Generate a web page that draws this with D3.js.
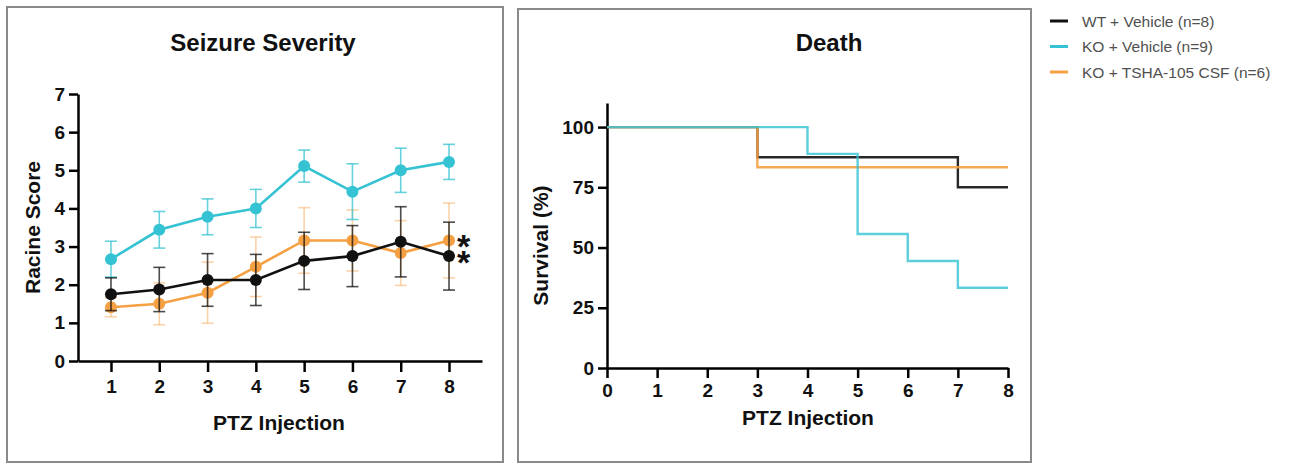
<!DOCTYPE html>
<html>
<head>
<meta charset="utf-8">
<script src="https://cdn.jsdelivr.net/npm/d3@7"></script>
<style>
  html, body { margin: 0; padding: 0; background: #fff; }
  svg { display: block; font-family: "Liberation Sans", Arial, sans-serif; }
  .sig { font-family: "Liberation Sans", Arial, sans-serif; font-weight: bold; font-size: 34px; color: #111; margin: 0; }
</style>
</head>
<body>
<svg id="chart" width="1295" height="464"></svg>
<script>
// PTZ injection index and group labels
const injections = [1, 2, 3, 4, 5, 6, 7, 8];
const groups = ["WT + Vehicle (n=8)", "KO + Vehicle (n=9)", "KO + TSHA-105 CSF (n=6)"];
const colors = ["#111111", "#35c3d3", "#f5a043"];

// Racine score means and SEM per group
const wtMean   = [1.75, 1.875, 2.125, 2.125, 2.625, 2.75, 3.125, 2.75];
const wtSem    = [0.43, 0.58, 0.69, 0.67, 0.75, 0.80, 0.92, 0.89];
const koMean   = [2.67, 3.44, 3.78, 4.00, 5.11, 4.44, 5.00, 5.22];
const koSem    = [0.47, 0.48, 0.47, 0.50, 0.42, 0.73, 0.58, 0.46];
const tshaMean = [1.41, 1.50, 1.79, 2.47, 3.16, 3.16, 2.83, 3.16];
const tshaSem  = [0.25, 0.55, 0.80, 0.78, 0.86, 0.80, 0.85, 0.98];

// Kaplan-Meier survival steps: [injection, survival %]
const wtSurv   = [[0, 100], [3, 87.5], [7, 75], [8, 75]];
const koSurv   = [[0, 100], [4, 88.9], [5, 55.6], [6, 44.4], [7, 33.3], [8, 33.3]];
const tshaSurv = [[0, 100], [3, 83.3], [8, 83.3]];

const yTicksScore = [0, 1, 2, 3, 4, 5, 6, 7];
const xTicksSurv = [0, 1, 2, 3, 4, 5, 6, 7, 8];
const yTicksSurv = [0, 25, 50, 75, 100];

const svg = d3.select("#chart");

// Panel frames
svg.append("rect").attr("x", 7).attr("y", 7).attr("width", 496).attr("height", 455)
  .attr("fill", "none").attr("stroke", "#8a8a8a").attr("stroke-width", 2);
svg.append("rect").attr("x", 518).attr("y", 9).attr("width", 513).attr("height", 453)
  .attr("fill", "none").attr("stroke", "#8a8a8a").attr("stroke-width", 2);

function styleAxis(g) {
  g.selectAll(".domain").attr("stroke", "#000").attr("stroke-width", 2.5);
  g.selectAll(".tick line").attr("stroke", "#000").attr("stroke-width", 2.5);
  g.selectAll(".tick text").attr("fill", "#111").attr("font-weight", "bold")
    .attr("font-size", 19).attr("font-family", "'Liberation Sans', Arial, sans-serif");
}

// ---------- Seizure severity ----------
const x1 = d3.scaleLinear().domain([0.317, 8.683]).range([78, 482]);
const y1 = d3.scaleLinear().domain([0, 7]).range([361, 94]);

const gx1 = svg.append("g").attr("transform", `translate(0,${y1(0)})`)
  .call(d3.axisBottom(x1).tickValues(injections).tickFormat(d3.format("d"))
    .tickSize(11).tickPadding(8).tickSizeOuter(0));
styleAxis(gx1);
const gy1 = svg.append("g").attr("transform", `translate(${x1.range()[0]},0)`)
  .call(d3.axisLeft(y1).tickValues(yTicksScore).tickFormat(d3.format("d"))
    .tickSize(9).tickPadding(4).tickSizeOuter(0));
styleAxis(gy1);

svg.append("text").attr("x", 263).attr("y", 51).attr("text-anchor", "middle")
  .attr("font-weight", "bold").attr("font-size", 24).attr("fill", "#111").text("Seizure Severity");
svg.append("text").attr("transform", `translate(40,${(y1(0) + y1(7)) / 2}) rotate(-90)`)
  .attr("text-anchor", "middle").attr("font-weight", "bold").attr("font-size", 21)
  .attr("fill", "#111").text("Racine Score");
svg.append("text").attr("x", 279).attr("y", 430).attr("text-anchor", "middle")
  .attr("font-weight", "bold").attr("font-size", 21).attr("fill", "#111").text("PTZ Injection");

const severity = [
  { mean: tshaMean, sem: tshaSem, color: colors[2], barOpacity: 0.45 },
  { mean: koMean, sem: koSem, color: colors[1], barOpacity: 0.75 },
  { mean: wtMean, sem: wtSem, color: colors[0], barOpacity: 0.75 }
];

severity.forEach(s => {
  const g = svg.append("g");
  injections.forEach((inj, i) => {
    const cx = x1(inj);
    const top = y1(s.mean[i] + s.sem[i]);
    const bot = y1(s.mean[i] - s.sem[i]);
    g.append("line").attr("x1", cx).attr("x2", cx).attr("y1", top).attr("y2", bot)
      .attr("stroke", s.color).attr("stroke-width", 1.6).attr("opacity", s.barOpacity);
    [top, bot].forEach(yy => g.append("line").attr("x1", cx - 6).attr("x2", cx + 6)
      .attr("y1", yy).attr("y2", yy).attr("stroke", s.color).attr("stroke-width", 1.6)
      .attr("opacity", s.barOpacity));
  });
  const line = d3.line().x((d, i) => x1(injections[i])).y(d => y1(d));
  g.append("path").datum(s.mean).attr("d", line).attr("fill", "none")
    .attr("stroke", s.color).attr("stroke-width", 2.6);
  g.selectAll("circle").data(s.mean).join("circle")
    .attr("cx", (d, i) => x1(injections[i])).attr("cy", d => y1(d)).attr("r", 6)
    .attr("fill", s.color);
});

// Significance markers stacked beside the final injection (TSHA row, then WT row)
const sigTop = y1(tshaMean[7]);
const sigStep = y1(wtMean[7]) - sigTop;
const fo = svg.append("foreignObject")
  .attr("x", x1(8) + 8).attr("y", 190).attr("width", 30).attr("height", 100)
  .style("overflow", "visible");
fo.append("xhtml:div").attr("class", "sig")
  .style("line-height", `${sigStep}px`)
  .style("padding-top", `${sigTop - 190 - 1}px`)
  .html("*<br>*");

// ---------- Death / survival ----------
const x2 = d3.scaleLinear().domain([0, 8]).range([607, 1008]);
const y2 = d3.scaleLinear().domain([0, 110]).range([368, 103]);

const gx2 = svg.append("g").attr("transform", `translate(0,${y2(0)})`)
  .call(d3.axisBottom(x2).tickValues(xTicksSurv).tickFormat(d3.format("d"))
    .tickSize(10).tickPadding(6).tickSizeOuter(0));
styleAxis(gx2);
const gy2 = svg.append("g").attr("transform", `translate(${x2(0)},0)`)
  .call(d3.axisLeft(y2).tickValues(yTicksSurv).tickFormat(d3.format("d"))
    .tickSize(9).tickPadding(4).tickSizeOuter(0));
styleAxis(gy2);

svg.append("text").attr("x", 829).attr("y", 51).attr("text-anchor", "middle")
  .attr("font-weight", "bold").attr("font-size", 24).attr("fill", "#111").text("Death");
svg.append("text").attr("transform", `translate(548,${(y2(0) + y2(100)) / 2 - 2}) rotate(-90)`)
  .attr("text-anchor", "middle").attr("font-weight", "bold").attr("font-size", 21)
  .attr("fill", "#111").text("Survival (%)");
svg.append("text").attr("x", 808).attr("y", 425).attr("text-anchor", "middle")
  .attr("font-weight", "bold").attr("font-size", 21).attr("fill", "#111").text("PTZ Injection");

const stepLine = d3.line().x(d => x2(d[0])).y(d => y2(d[1])).curve(d3.curveStepAfter);
[
  { data: wtSurv, color: colors[0], opacity: 0.9 },
  { data: tshaSurv, color: colors[2], opacity: 0.9 },
  { data: koSurv, color: colors[1], opacity: 0.8 }
].forEach(s => {
  svg.append("path").datum(s.data).attr("d", stepLine).attr("fill", "none")
    .attr("stroke", s.color).attr("stroke-width", 2.4).attr("opacity", s.opacity);
});

// ---------- Legend ----------
const legend = svg.append("g").attr("transform", "translate(1050,21)");
groups.forEach((name, i) => {
  const row = legend.append("g").attr("transform", `translate(0,${i * 25.5})`);
  row.append("line").attr("x1", 0).attr("x2", 18).attr("y1", 0).attr("y2", 0)
    .attr("stroke", colors[i]).attr("stroke-width", 3);
  row.append("text").attr("x", 32).attr("y", 5.5).attr("font-size", 15.5)
    .attr("fill", "#505050").text(name);
});
</script>
</body>
</html>
